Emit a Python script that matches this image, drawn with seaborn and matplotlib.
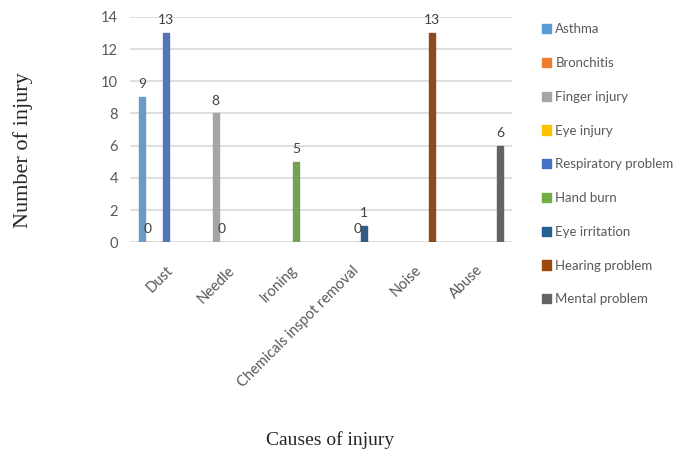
import pandas as pd
import seaborn as sns
import matplotlib.pyplot as plt
from matplotlib.patches import Patch

# causes (x axis) and injury types (legend)
causes = ["Dust", "Needle", "Ironing", "Chemicals inspot removal", "Noise", "Abuse"]
injuries = ["Asthma", "Bronchitis", "Finger injury", "Eye injury", "Respiratory problem",
            "Hand burn", "Eye irritation", "Hearing problem", "Mental problem"]
colors = ["#5B9BD5", "#ED7D31", "#A5A5A5", "#FFC000", "#4472C4",
          "#70AD47", "#255E91", "#9E480E", "#636363"]

# only the combinations shown in the chart
row_cause = ["Dust", "Dust", "Dust", "Needle", "Needle", "Ironing",
             "Chemicals inspot removal", "Chemicals inspot removal", "Noise", "Abuse"]
row_injury = ["Asthma", "Bronchitis", "Respiratory problem", "Finger injury", "Eye injury",
              "Hand burn", "Hand burn", "Eye irritation", "Hearing problem", "Mental problem"]
row_count = [9, 0, 13, 8, 0, 5, 0, 1, 13, 6]

df = pd.DataFrame({"cause": row_cause, "injury": row_injury, "count": row_count})

sns.set_style("white")
plt.rcParams["font.family"] = ["Lato", "DejaVu Sans"]

fig = plt.figure(figsize=(6.87, 4.57), dpi=100)
ax = fig.add_axes([0.189, 0.470, 0.556, 0.493])

sns.barplot(data=df, x="cause", y="count", hue="injury", order=causes, hue_order=injuries,
            palette=colors, width=0.87, ax=ax, legend=False, zorder=3)

for p in ax.patches:
    p.set_edgecolor(p.get_facecolor())
    p.set_linewidth(1.0)

for cont in ax.containers:
    ax.bar_label(cont, fmt="%g", padding=5, fontsize=10, color="#404040")

ax.set_xlim(-0.58, 5.58)
ax.set_ylim(0, 14)
ax.set_yticks(range(0, 15, 2))
ax.yaxis.grid(True, color="#D9D9D9", linewidth=1.2, zorder=0)
ax.set_axisbelow(True)
for s in ax.spines.values():
    s.set_visible(False)
ax.tick_params(axis="y", length=0, labelsize=10.5, labelcolor="#595959", pad=8.5)
ax.tick_params(axis="x", length=0, labelsize=10.5, labelcolor="#595959", pad=15)
plt.setp(ax.get_xticklabels(), rotation=45, ha="right", rotation_mode="anchor")

ax.set_xlabel("")
ax.set_ylabel("")
fig.text(0.480, 0.037, "Causes of injury", family="Liberation Serif", fontsize=14,
         ha="center", va="center")
fig.text(0.034, 0.672, "Number of injury", family="Liberation Serif", fontsize=16,
         ha="center", va="center", rotation=90)

handles = [Patch(facecolor=c, edgecolor=c) for c in colors]
fig.legend(handles, injuries, loc="upper left", bbox_to_anchor=(0.772, 0.975),
           frameon=False, fontsize=9.5, labelcolor="#595959", handlelength=0.7,
           handleheight=0.7, handletextpad=0.3, labelspacing=1.65)

fig.savefig("out.png", dpi=100)
